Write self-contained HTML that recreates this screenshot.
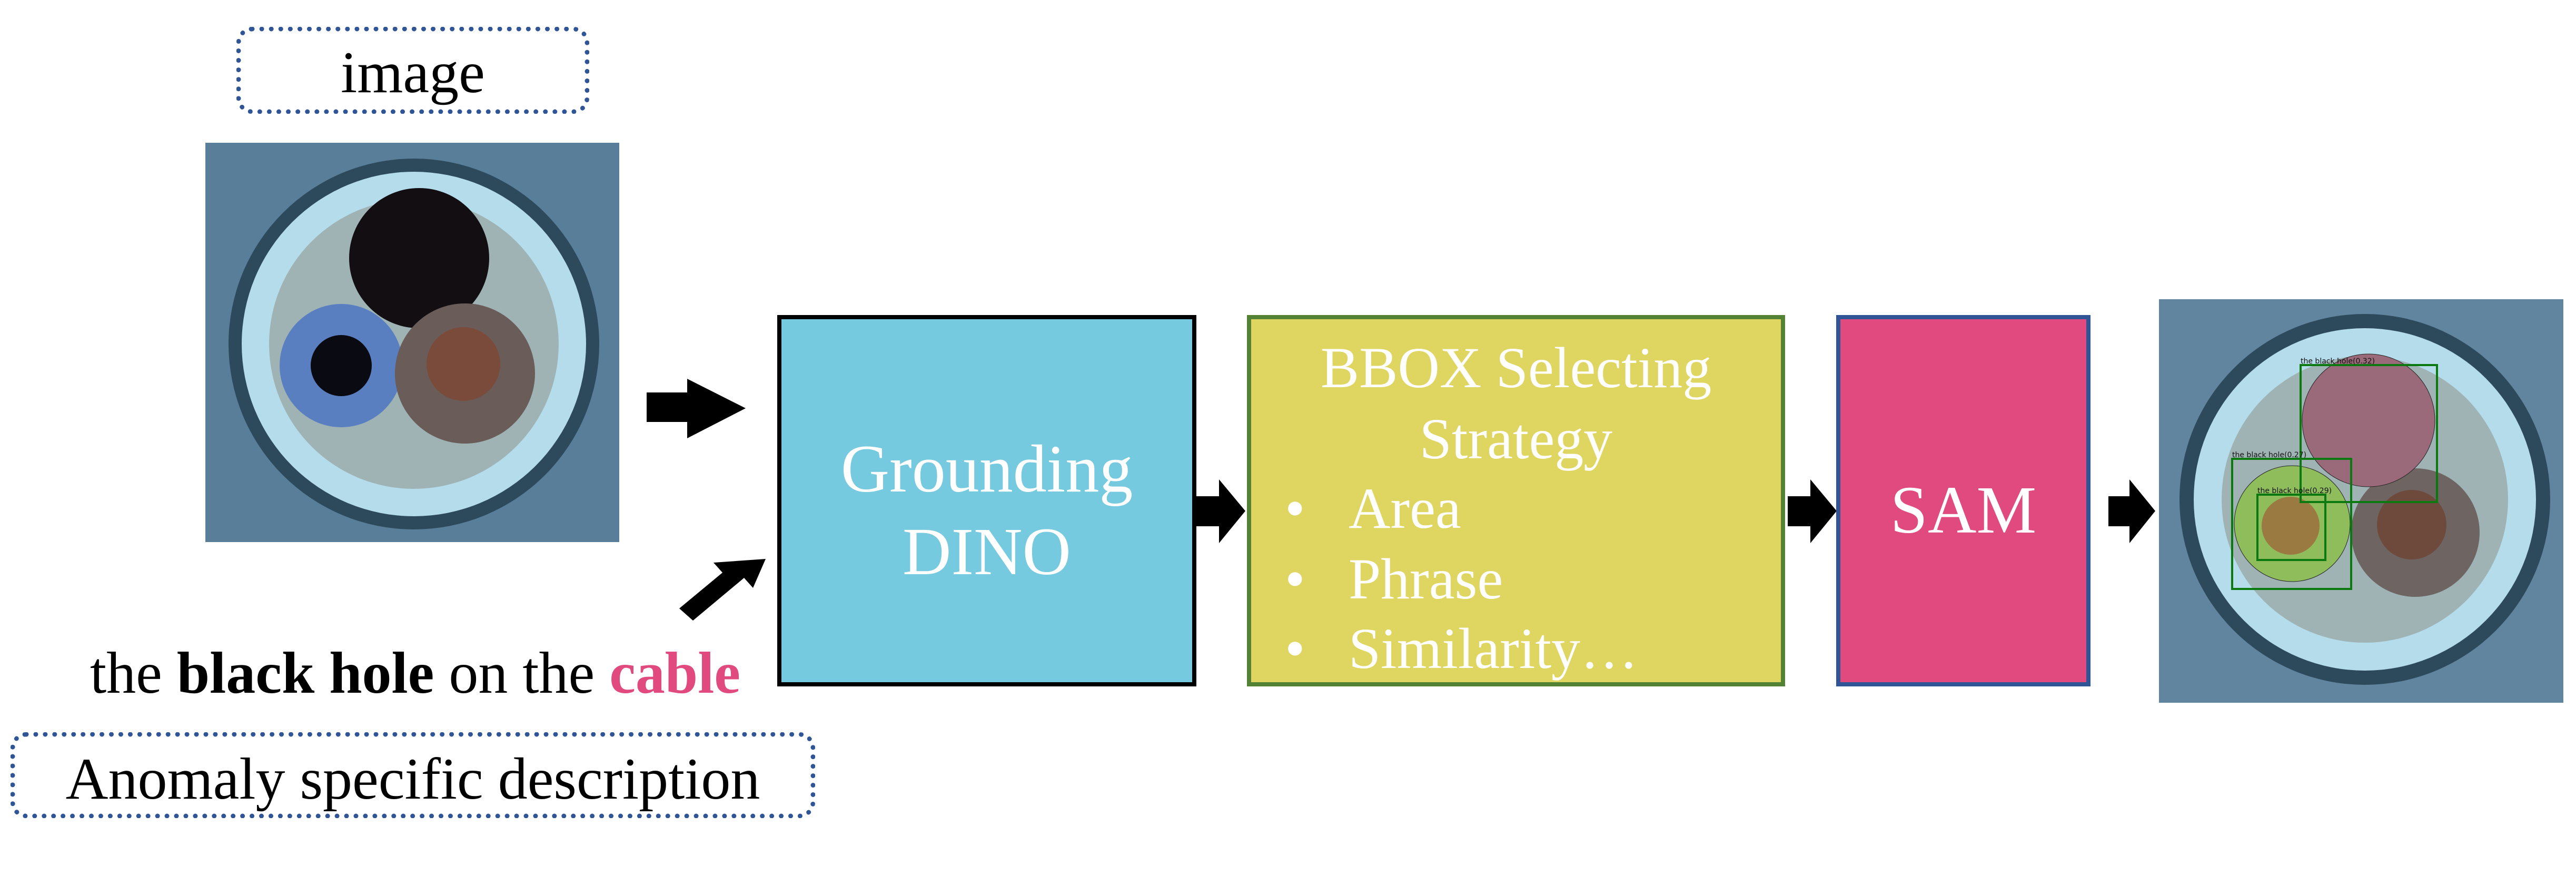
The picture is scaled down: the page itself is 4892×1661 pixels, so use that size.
<!DOCTYPE html>
<html><head><meta charset="utf-8"><style>
html,body{margin:0;padding:0;background:#fff;}
body{width:4892px;height:1661px;position:relative;overflow:hidden;font-family:"Liberation Serif",serif;}
.abs{position:absolute;}
.dot{position:absolute;border:9px dotted #2F5597;border-radius:30px;box-sizing:border-box;}
.box{position:absolute;box-sizing:border-box;border:8px solid;color:#fff;font-family:"Liberation Serif",serif;}
.t{position:absolute;white-space:nowrap;line-height:1;}
</style></head><body>

<div class="dot" style="left:449px;top:51px;width:670px;height:165px;"></div>
<div class="t" style="left:449px;width:670px;text-align:center;top:82px;font-size:112px;">image</div>

<svg class="abs" style="left:390px;top:271px" width="786" height="758">
<rect width="786" height="758" fill="#4f7390"/>
<rect width="786" height="758" fill="#6a8fab" opacity="0.4"/>
<circle cx="396" cy="382" r="352" fill="#2d4a5c"/>
<circle cx="396" cy="382" r="327" fill="#b5dceb"/>
<circle cx="396" cy="382" r="275" fill="#9fb3b5"/>
<circle cx="406" cy="219" r="133" fill="#120e12"/>
<circle cx="258" cy="423" r="117" fill="#5a7fc0"/>
<circle cx="258" cy="423" r="58" fill="#0a0a12"/>
<circle cx="493" cy="438" r="133" fill="#6a5c58"/>
<circle cx="490" cy="420" r="70" fill="#7a4b3a"/>
</svg>

<svg class="abs" style="left:0;top:0" width="4892" height="1661">
<polygon points="1228,745 1305,745 1305,719 1416,775 1305,832 1305,801 1228,801" fill="#000"/>
<polygon points="1316,1178 1290,1155 1372,1087 1355,1068 1454,1061 1430,1116 1413,1097" fill="#000"/>
<polygon points="2272,942 2315,942 2315,910 2365,970 2315,1031 2315,999 2272,999" fill="#000"/>
<polygon points="3395,942 3438,942 3438,910 3488,970 3438,1031 3438,999 3395,999" fill="#000"/>
<polygon points="4004,942 4044,942 4044,910 4093,970 4044,1031 4044,999 4004,999" fill="#000"/>
</svg>

<div class="t" style="left:171px;top:1222px;font-size:112px;">the <b>black hole</b> on the <b style="color:#E04A7E">cable</b></div>

<div class="dot" style="left:20px;top:1390px;width:1528px;height:163px;"></div>
<div class="t" style="left:20px;width:1528px;text-align:center;top:1423px;font-size:112px;">Anomaly specific description</div>

<div class="box" style="left:1476px;top:598px;width:796px;height:705px;background:#76CADF;border-color:#000;"></div>
<div class="t" style="left:1476px;width:796px;text-align:center;top:826px;font-size:128px;color:#fff;">Grounding</div>
<div class="t" style="left:1476px;width:796px;text-align:center;top:983px;font-size:128px;color:#fff;">DINO</div>

<div class="box" style="left:2368px;top:598px;width:1022px;height:705px;background:#DFD662;border-color:#548235;"></div>
<div class="t" style="left:2368px;width:1022px;text-align:center;top:643px;font-size:110px;color:#fff;">BBOX Selecting</div>
<div class="t" style="left:2368px;width:1022px;text-align:center;top:778px;font-size:110px;color:#fff;">Strategy</div>
<div class="t" style="left:2440px;top:910px;font-size:110px;color:#fff;">•</div>
<div class="t" style="left:2561px;top:910px;font-size:110px;color:#fff;">Area</div>
<div class="t" style="left:2440px;top:1044px;font-size:110px;color:#fff;">•</div>
<div class="t" style="left:2561px;top:1044px;font-size:110px;color:#fff;">Phrase</div>
<div class="t" style="left:2440px;top:1176px;font-size:110px;color:#fff;">•</div>
<div class="t" style="left:2561px;top:1176px;font-size:110px;color:#fff;">Similarity…</div>

<div class="box" style="left:3487px;top:598px;width:483px;height:705px;background:#E04A7E;border-color:#2F5597;"></div>
<div class="t" style="left:3487px;width:483px;text-align:center;top:904px;font-size:128px;color:#fff;">SAM</div>

<svg class="abs" style="left:4100px;top:568px" width="768" height="766" font-family="DejaVu Sans, sans-serif">
<rect width="768" height="766" fill="#577a94"/>
<rect width="768" height="766" fill="#7297b0" opacity="0.4"/>
<circle cx="391" cy="380" r="352" fill="#2d4a5c"/>
<circle cx="391" cy="380" r="325" fill="#b5dceb"/>
<circle cx="391" cy="380" r="272" fill="#9fb3b5"/>
<circle cx="487" cy="443" r="122" fill="#6e6562"/>
<circle cx="480" cy="428" r="66" fill="#6e4a3c"/>
<circle cx="398" cy="230" r="126" fill="#9a6a7a" stroke="#222" stroke-width="1"/>
<circle cx="253" cy="426" r="110" fill="#8fbd5c" stroke="#222" stroke-width="1"/>
<circle cx="250" cy="430" r="55" fill="#9a7a40"/>
<g fill="none" stroke="#0a7a10" stroke-width="4">
<rect x="269" y="125" width="259" height="260"/>
<rect x="139" y="303" width="226" height="247"/>
<rect x="187" y="371" width="129" height="124"/>
</g>
<g font-size="14" fill="#111">
<text x="269" y="122">the black hole(0.32)</text>
<text x="139" y="300">the black hole(0.27)</text>
<text x="187" y="368">the black hole(0.29)</text>
</g>
</svg>

</body></html>
